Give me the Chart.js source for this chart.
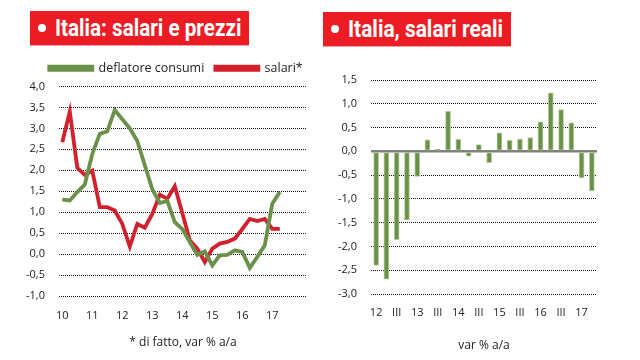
<!DOCTYPE html>
<html>
<head>
<meta charset="utf-8">
<script src="https://cdn.jsdelivr.net/npm/chart.js@4.4.1/dist/chart.umd.min.js"></script>
<style>
  body { margin:0; width:640px; height:360px; background:#fff; position:relative; overflow:hidden; }
  .box { position:absolute; background:#ec1c24; height:34px; box-shadow:0 1px 0 #f5a0a4; }
  .pt { position:absolute; width:8px; height:8px; border-radius:50%; background:#fff; }
  .tt { position:absolute; color:#fff; font-family:Roboto, sans-serif; font-weight:bold; font-size:24px; line-height:24px;
        white-space:nowrap; transform-origin:0 0; }
  canvas { position:absolute; top:0; }
</style>
</head>
<body>
<div class="box" style="left:30px; top:11px; width:219px;"></div>
<div class="pt" style="left:38px; top:24px;"></div>
<span class="tt" id="t1" style="left:55px; top:16px;">Italia: salari e prezzi</span>
<div class="box" style="left:323px; top:12px; width:188px;"></div>
<div class="pt" style="left:331px; top:25px;"></div>
<span class="tt" id="t2" style="left:348px; top:16.5px;">Italia, salari reali</span>
<canvas id="sx" width="320" height="360" style="left:0;"></canvas>
<canvas id="dx" width="320" height="360" style="left:320px;"></canvas>
<script>
	// trimestri 2010 T1 - 2017 T2
	const anniSx = ['10','11','12','13','14','15','16','17'];
	const deflatore = [1.30,1.28,1.48,1.66,2.39,2.87,2.93,3.44,3.22,3.00,2.70,2.12,1.55,1.22,1.27,0.76,
	                   0.60,0.29,-0.02,0.07,-0.27,-0.03,-0.02,0.09,0.05,-0.33,-0.07,0.21,1.20,1.48];
	const salari = [2.67,3.40,2.06,1.89,1.99,1.12,1.12,1.04,0.72,0.18,0.72,0.63,0.96,1.42,1.32,1.62,
	                0.98,0.33,0.13,-0.19,0.13,0.25,0.29,0.37,0.60,0.84,0.79,0.84,0.60,0.60];

	// salari reali, trimestri 2012 T1 - 2017 T2
	const trimDx = ['12','','III','','13','','III','','14','','III','','15','','III','','16','','III','','17',''];
	const salariReali = [-2.40,-2.69,-1.86,-1.44,-0.53,0.24,0.04,0.84,0.25,-0.10,0.14,-0.24,0.39,0.23,0.26,0.29,
	                     0.62,1.23,0.88,0.60,-0.56,-0.83];

	// titoli: testo condensato alla larghezza dell'originale
	[['t1',186],['t2',155]].forEach(([id,w]) => {
		const el = document.getElementById(id);
		el.style.transform = `scaleX(${w / el.offsetWidth})`;
	});

	const verde = '#6a904a';
	const rosso = '#d2202c';
	const fontTick = { family:'"Open Sans", sans-serif', size:11 };
	const virgola = (v) => v.toFixed(1).replace('.', ',');

	// sposta la legenda (centrata sull'area del grafico come nell'originale)
	const spostaLegenda = {
		id:'spostaLegenda',
		afterLayout(chart, args, opts) {
			const l = chart.legend;
			l.left += opts.dx; l.right += opts.dx;
			l.top += opts.dy; l.bottom += opts.dy;
		}
	};

	const ctx1 = document.querySelector('#sx');
	new Chart(ctx1, {
	    type: 'line',
	    data: {
	        datasets: [
	            { label:'deflatore consumi', data: deflatore.map((v,i)=>({x:i, y:v})), borderColor:verde, backgroundColor:verde,
	              borderWidth:3.8, pointRadius:0, tension:0 },
	            { label:'salari*', data: salari.map((v,i)=>({x:i, y:v})), borderColor:rosso, backgroundColor:rosso,
	              borderWidth:3.8, pointRadius:0, tension:0 }
	        ]
	    },
	    plugins: [spostaLegenda],
	    options: {
	        responsive:false, animation:false,
	        layout: { padding: { left:20, right:13, top:53, bottom:0 } },
	        plugins: {
	            legend: { labels: { boxWidth:43, boxHeight:3, padding:11, color:'#222',
	                                 font:{ family:'"Open Sans", sans-serif', size:12.5 } } },
	            spostaLegenda: { dx:12.5, dy:-2 },
	            tooltip: { enabled:false }
	        },
	        scales: {
	            x: {
	                type:'linear', min:-0.44, max:32.63,
	                afterBuildTicks: (ax) => { ax.ticks = anniSx.map((a,i)=>({value:i*4})); },
	                afterFit: (ax) => { ax.height = 64; },
	                ticks: { autoSkip:false, maxRotation:0, padding:13, color:'#222', font:fontTick,
	                         callback: (v) => anniSx[v/4] },
	                grid: { display:false, drawTicks:false }, border: { display:false },
	                title: { display:true, text:'* di fatto, var % a/a', color:'#222', padding:{top:0,bottom:10},
	                         font:{ family:'"Open Sans", sans-serif', size:12 } }
	            },
	            y: {
	                min:-1, max:4,
	                afterFit: (ax) => { ax.width = 39; },
	                ticks: { stepSize:0.5, padding:14, color:'#222', font:fontTick, callback: (v) => virgola(v) },
	                grid: { color:'#111', lineWidth:1, drawTicks:false },
	                border: { display:false, dash:[1,1] }
	            }
	        }
	    }
	});

	const ctx2 = document.querySelector('#dx');
	new Chart(ctx2, {
	    type: 'bar',
	    data: {
	        labels: trimDx,
	        datasets: [
	            { label:'salari reali', data: salariReali, backgroundColor:verde, borderColor:'rgba(170,200,140,0.9)',
	              borderWidth:1, borderSkipped:false, barThickness:5 }
	        ]
	    },
	    options: {
	        responsive:false, animation:false,
	        layout: { padding: { left:0, right:43, top:80, bottom:0 } },
	        plugins: { legend: { display:false }, tooltip: { enabled:false } },
	        scales: {
	            x: {
	                afterFit: (ax) => { ax.height = 66; },
	                ticks: { autoSkip:false, maxRotation:0, padding:12.5, color:'#222', font:fontTick },
	                grid: { display:false, drawTicks:false }, border: { display:false },
	                title: { display:true, text:'var % a/a', color:'#222', padding:{top:0,bottom:7},
	                         font:{ family:'"Open Sans", sans-serif', size:12 } }
	            },
	            y: {
	                min:-3, max:1.5,
	                afterFit: (ax) => { ax.width = 51; },
	                ticks: { stepSize:0.5, padding:14, color:'#222', font:fontTick, callback: (v) => virgola(v) },
	                grid: { drawTicks:false,
	                        color: (c) => (c.tick && c.tick.value === 0) ? '#808080' : '#111',
	                        lineWidth: (c) => (c.tick && c.tick.value === 0) ? 2.5 : 1 },
	                border: { display:false, dash: (c) => (c.tick && c.tick.value === 0) ? [] : [1,1] }
	            }
	        }
	    }
	});
</script>
</body>
</html>
